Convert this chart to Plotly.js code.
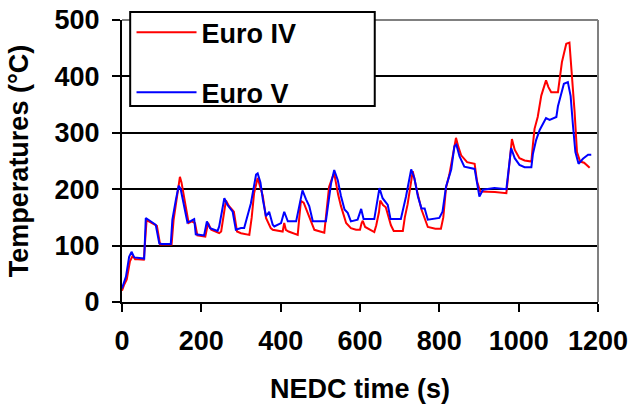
<!DOCTYPE html>
<html>
<head>
<meta charset="utf-8">
<script src="https://cdn.plot.ly/plotly-3.0.1.min.js"></script>
<style>html,body{margin:0;padding:0;background:#fff;}#chart{width:644px;height:407px;}</style>
</head>
<body>
<div id="chart"></div>
<script>
// Euro IV (red)
const timeEuroIV = [0,5,12,20,27,33,40,55,62,75,88,96,125,130,138,146,150,160,168,176,184,190,210,217,225,245,250,262,270,282,290,
  300,321,327,333,342,349,355,363,375,380,405,409,413,420,443,447,451,458,466,472,485,510,515,522,530,535,545,552,565,577,590,
  600,604,607,613,625,636,641,648,651,658,665,672,678,685,708,713,720,733,739,746,755,771,790,804,810,817,825,835,842,848,855,870,889,895,
  903,940,969,975,983,990,1002,1015,1032,1036,1040,1048,1057,1065,1069,1075,1082,1099,1103,1109,1114,1120,1128,1134,1141,1147,1155,1165,1179];
const tempEuroIV = [20,30,40,72,82,76,76,75,145,140,135,102,102,145,180,222,212,175,140,143,140,118,116,140,128,122,125,180,170,160,125,
  122,119,150,193,220,205,188,149,131,128,125,140,128,125,119,150,179,176,161,150,128,123,160,204,220,228,190,170,140,131,128,
  128,140,144,133,128,124,136,160,180,172,168,150,136,126,126,150,173,232,215,190,164,133,130,130,150,203,225,260,291,275,260,248,245,214,
  196,195,193,234,289,270,255,251,249,280,307,328,366,384,393,381,372,372,398,425,440,458,460,408,337,266,249,247,238];

// Euro V (blue)
const timeEuroV = [0,5,10,18,24,31,40,52,56,60,73,85,94,100,123,127,136,143,148,157,165,174,182,186,207,214,222,241,245,258,266,279,287,
  300,308,325,338,342,349,355,363,371,380,384,401,409,418,439,447,455,464,472,481,514,519,527,535,544,552,561,569,577,594,
  603,609,636,649,657,670,677,703,716,729,737,746,755,763,771,800,808,817,830,838,843,851,863,889,895,
  901,910,939,969,977,981,990,1002,1015,1032,1036,1044,1053,1061,1069,1078,1095,1099,1106,1114,1124,1131,1137,1143,1151,1162,1175,1183];
const tempEuroV = [24,35,45,80,89,79,78,77,77,149,143,137,104,103,103,146,182,206,200,171,141,144,147,120,118,143,131,126,134,184,172,160,128,
  131,131,175,226,228,212,182,152,160,137,134,140,160,143,143,169,198,182,170,143,143,169,210,234,216,188,164,158,143,146,
  165,147,147,202,184,172,147,147,187,235,220,187,166,166,146,149,160,205,235,276,279,258,240,236,214,
  187,199,202,200,249,273,255,243,239,239,263,287,305,317,326,323,328,347,368,387,390,365,312,266,245,254,261,261];

const seriesNames = ["Euro IV", "Euro V"];
const xTicks = [0,200,400,600,800,1000,1200];
const yTicks = [0,100,200,300,400,500];

const fam = "Liberation Sans, Arial, sans-serif";
const boldFont = {family: fam, size: 27, color: "#000", weight: "bold"};

const traces = [
  {x: timeEuroIV, y: tempEuroIV, name: seriesNames[0], type: "scatter", mode: "lines",
   line: {color: "#ff0000", width: 2}, legendgroup: "a"},
  {x: timeEuroV, y: tempEuroV, name: seriesNames[1], type: "scatter", mode: "lines",
   line: {color: "#0000ff", width: 2}, legendgroup: "b"}
];

const layout = {
  width: 644, height: 407,
  margin: {l: 122, r: 46, t: 20, b: 105, autoexpand: false},
  paper_bgcolor: "#fff", plot_bgcolor: "#fff",
  font: {family: fam, size: 27, color: "#000"},
  showlegend: true,
  legend: {x: 0.02, y: 1.042, xanchor: "left", yanchor: "top",
    bgcolor: "rgba(0,0,0,0)", borderwidth: 0, font: boldFont,
    tracegroupgap: 22, itemwidth: 60, traceorder: "grouped"},
  xaxis: {range: [0, 1200], tickvals: xTicks, ticktext: xTicks.map(String),
    showgrid: false, zeroline: false, showline: true, linecolor: "#000", linewidth: 2,
    ticks: "outside", ticklen: 8, tickwidth: 2, tickcolor: "#000", ticklabelstandoff: 6,
    tickfont: boldFont, automargin: false,
    title: {text: "NEDC time (s)", font: boldFont, standoff: 24}},
  yaxis: {range: [0, 500], tickvals: yTicks, ticktext: yTicks.map(String),
    showgrid: true, gridcolor: "#000", gridwidth: 2, zeroline: false, showline: true, linecolor: "#000", linewidth: 2,
    ticks: "outside", ticklen: 8, tickwidth: 2, tickcolor: "#000", ticklabelstandoff: 7,
    tickfont: boldFont, automargin: false,
    title: {text: "Temperatures (°C)", font: boldFont, standoff: 18}},
  shapes: [
    {type: "line", xref: "paper", yref: "paper", x0: 0, x1: 1, y0: 1, y1: 1, line: {color: "#808080", width: 2}, layer: "above"},
    {type: "line", xref: "paper", yref: "paper", x0: 1, x1: 1, y0: 0, y1: 1, line: {color: "#808080", width: 2}, layer: "above"},
    {type: "rect", xref: "paper", yref: "paper", x0: 0.0172, x1: 0.531, y0: 0.695, y1: 1.028,
     fillcolor: "#fff", line: {color: "#000", width: 2}, layer: "above"}
  ]
};

Plotly.newPlot("chart", traces, layout, {displayModeBar: false, staticPlot: true});
</script>
</body>
</html>
